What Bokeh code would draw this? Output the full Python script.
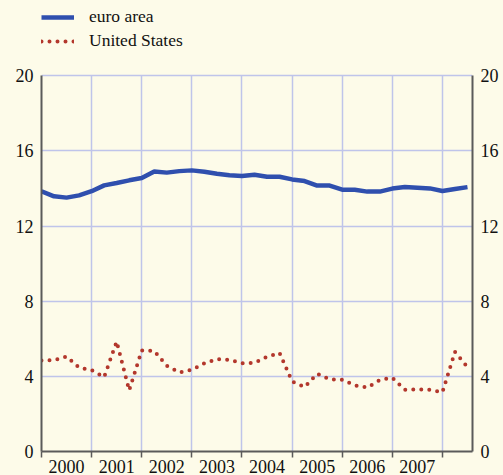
from bokeh.plotting import figure
from bokeh.models import LinearAxis, FixedTicker, Range1d, Legend, LegendItem
from bokeh.embed import file_html
from bokeh.resources import INLINE

# quarterly observations, decimal years
quarters = [2000.0, 2000.25, 2000.5, 2000.75, 2001.0, 2001.25, 2001.5, 2001.75,
            2002.0, 2002.25, 2002.5, 2002.75, 2003.0, 2003.25, 2003.5, 2003.75,
            2004.0, 2004.25, 2004.5, 2004.75, 2005.0, 2005.25, 2005.5, 2005.75,
            2006.0, 2006.25, 2006.5, 2006.75, 2007.0, 2007.25, 2007.5, 2007.75,
            2008.0, 2008.25, 2008.5]
euro_area = [13.85, 13.58, 13.51, 13.63, 13.85, 14.16, 14.29, 14.43,
             14.55, 14.90, 14.84, 14.92, 14.96, 14.89, 14.78, 14.70,
             14.66, 14.73, 14.62, 14.62, 14.48, 14.39, 14.15, 14.15,
             13.93, 13.93, 13.83, 13.83, 13.99, 14.07, 14.04, 14.00,
             13.86, 13.97, 14.07]
united_states = [4.84, 4.86, 5.06, 4.47, 4.33, 3.96, 5.85, 3.25,
                 5.38, 5.35, 4.56, 4.21, 4.35, 4.69, 4.92, 4.88,
                 4.70, 4.72, 5.04, 5.25, 3.73, 3.43, 4.14, 3.84,
                 3.82, 3.52, 3.40, 3.80, 3.93, 3.29, 3.31, 3.29,
                 3.15, 5.30, 4.49]

year_bounds = [2000, 2001, 2002, 2003, 2004, 2005, 2006, 2007, 2008]
year_mids = [2000.5, 2001.5, 2002.5, 2003.5, 2004.5, 2005.5, 2006.5, 2007.5]
year_labels = ["2000", "2001", "2002", "2003", "2004", "2005", "2006", "2007"]
y_ticks = [0, 4, 8, 12, 16, 20]

BG = "#fdfbe9"
GRID = "#bfc4ea"
AXIS = "#5a5a5a"
BLUE = "#2f4fae"
RED = "#b3372c"
FONT = "Liberation Serif, DejaVu Serif, serif"

# the frame is extended above 20 to hold the legend
p = figure(width=503, height=475, output_backend="svg", toolbar_location=None,
           x_range=Range1d(2000, 2008.6), y_range=Range1d(0, 24.0),
           x_axis_location=None, y_axis_location=None,
           min_border_left=41, min_border_right=31, min_border_top=0,
           min_border_bottom=20)
p.background_fill_color = BG
p.border_fill_color = BG
p.outline_line_color = None

# grid
p.ygrid.ticker = FixedTicker(ticks=y_ticks)
p.ygrid.grid_line_color = GRID
p.ygrid.grid_line_width = 1.5
p.xgrid.ticker = FixedTicker(ticks=year_bounds)
p.xgrid.grid_line_color = GRID
p.xgrid.grid_line_width = 1.5
try:
    p.xgrid.cross_bounds = (y_ticks[0], y_ticks[-1])
except Exception:
    p.xgrid.visible = False
    p.segment(x0=year_bounds, y0=[y_ticks[0]] * len(year_bounds),
              x1=year_bounds, y1=[y_ticks[-1]] * len(year_bounds),
              line_color=GRID, line_width=1.5, level="underlay")

l1 = p.line(quarters, euro_area, line_color=BLUE, line_width=4.5)
l2 = p.line(quarters, united_states, line_color=RED, line_width=4,
            line_dash="0 8", line_cap="round")

# axes
xaxis = LinearAxis(ticker=FixedTicker(ticks=year_mids, minor_ticks=year_bounds),
                   major_label_overrides={m: l for m, l in zip(year_mids, year_labels)})
xaxis.major_tick_out = 0
xaxis.major_tick_in = 0
xaxis.minor_tick_in = 0
xaxis.minor_tick_out = 6
xaxis.minor_tick_line_color = AXIS
xaxis.minor_tick_line_width = 1.5
xaxis.axis_line_color = AXIS
xaxis.axis_line_width = 2
xaxis.major_label_standoff = 2
xaxis.major_label_text_font = FONT
xaxis.major_label_text_font_size = "18px"
xaxis.major_label_text_color = "#111111"
p.add_layout(xaxis, "below")

for side in ("left", "right"):
    ax = LinearAxis(ticker=FixedTicker(ticks=y_ticks, minor_ticks=[]),
                    bounds=(y_ticks[0], y_ticks[-1]))
    ax.major_tick_out = 0
    ax.major_tick_in = 0
    ax.minor_tick_out = 0
    ax.axis_line_color = AXIS
    ax.axis_line_width = 2
    ax.major_label_standoff = 8
    ax.major_label_text_font = FONT
    ax.major_label_text_font_size = "18px"
    ax.major_label_text_color = "#111111"
    p.add_layout(ax, side)

legend = Legend(items=[LegendItem(label="euro area", renderers=[l1]),
                       LegendItem(label="United States", renderers=[l2])],
                location=(0, 400), orientation="vertical")
legend.background_fill_alpha = 0
legend.border_line_color = None
legend.padding = 0
legend.margin = 0
legend.spacing = 3
legend.glyph_width = 33
legend.glyph_height = 20
legend.label_height = 20
legend.label_standoff = 15
legend.label_text_font = FONT
legend.label_text_font_size = "17.5px"
legend.label_text_color = "#111111"
p.add_layout(legend, "center")

html = file_html(p, INLINE)
html = html.replace("</head>", "<style>html, body { background: %s; }</style></head>" % BG, 1)
open("out.html", "w").write(html)
